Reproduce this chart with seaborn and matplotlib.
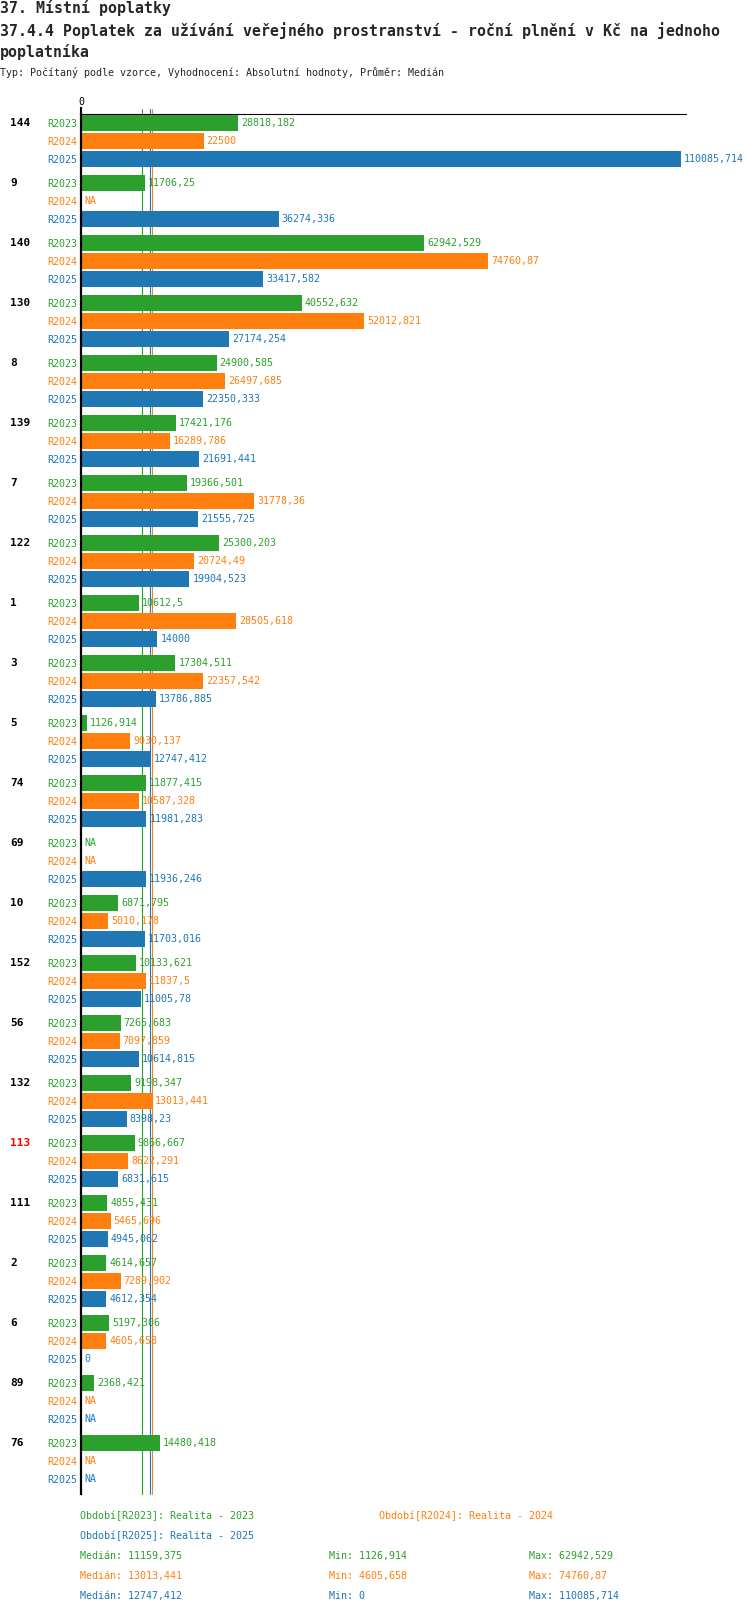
import numpy as np
import pandas as pd
import matplotlib
matplotlib.use("Agg")
import matplotlib.pyplot as plt
import matplotlib.transforms as mtransforms
import seaborn as sns

# ---------------- data ----------------
groups = ["144", "9", "140", "130", "8", "139", "7", "122", "1", "3", "5", "74",
          "69", "10", "152", "56", "132", "113", "111", "2", "6", "89", "76"]
periods = ["R2023", "R2024", "R2025"]
NA = np.nan
r2023 = [28818.182, 11706.25, 62942.529, 40552.632, 24900.585, 17421.176, 19366.501,
         25300.203, 10612.5, 17304.511, 1126.914, 11877.415, NA, 6871.795, 10133.621,
         7265.683, 9198.347, 9866.667, 4855.431, 4614.657, 5197.306, 2368.421, 14480.418]
r2024 = [22500, NA, 74760.87, 52012.821, 26497.685, 16289.786, 31778.36,
         20724.49, 28505.618, 22357.542, 9030.137, 10587.328, NA, 5010.178, 11837.5,
         7097.859, 13013.441, 8622.291, 5465.696, 7289.902, 4605.658, NA, NA]
r2025 = [110085.714, 36274.336, 33417.582, 27174.254, 22350.333, 21691.441, 21555.725,
         19904.523, 14000, 13786.885, 12747.412, 11981.283, 11936.246, 11703.016, 11005.78,
         10614.815, 8398.23, 6831.615, 4945.062, 4612.354, 0, NA, NA]
legend_names = ["Období[R2023]: Realita - 2023",
                "Období[R2024]: Realita - 2024",
                "Období[R2025]: Realita - 2025"]
highlight_group = "113"

title1 = "37. Místní poplatky"
title2 = "37.4.4 Poplatek za užívání veřejného prostranství - roční plnění v Kč na jednoho"
title3 = "poplatníka"
subtitle = "Typ: Počítaný podle vzorce, Vyhodnocení: Absolutní hodnoty, Průměr: Medián"

colors = {"R2023": "#2ca02c", "R2024": "#ff7f0e", "R2025": "#1f77b4"}

# ---------------- layout constants (pixel units) ----------------
W, H, DPI = 750, 1614, 100
ROW = 18          # row pitch
GROUP = 60        # group pitch
BAR_H = 16
AX_LEFT, AX_RIGHT, AX_TOP = 81, 686, 114.3
n = len(groups)
AX_BOTTOM = AX_TOP + GROUP * n

rows = []
series = {"R2023": r2023, "R2024": r2024, "R2025": r2025}
for i, g in enumerate(groups):
    for j, p in enumerate(periods):
        rows.append({"group": g, "period": p, "value": series[p][i],
                     "pos": GROUP * i + ROW * j + ROW / 2})
df = pd.DataFrame(rows)


def fmt(v):
    s = f"{v:.3f}".rstrip("0").rstrip(".")
    return s.replace(".", ",")


sns.set_style("white")
plt.rcParams["font.family"] = ["DejaVu Sans Mono", "DejaVu Sans"]

fig = plt.figure(figsize=(W / DPI, H / DPI), dpi=DPI)
ax = fig.add_axes([AX_LEFT / W, 1 - AX_BOTTOM / H,
                   (AX_RIGHT - AX_LEFT) / W, (AX_BOTTOM - AX_TOP) / H])

# median lines behind the bars (slightly protruding above the top line)
for p in periods:
    med = np.nanmedian(series[p])
    ax.plot([med, med], [-5, GROUP * n], color=colors[p], lw=0.8, zorder=0,
            clip_on=False)

sns.barplot(data=df.dropna(subset=["value"]), x="value", y="pos", hue="period",
            hue_order=periods, palette=colors, orient="h", native_scale=True,
            dodge=False, width=BAR_H / ROW, errorbar=None, legend=False,
            saturation=1, linewidth=0, edgecolor="none", ax=ax, zorder=2)

xmax = 111000
ax.set_xlim(0, xmax)
ax.set_ylim(GROUP * n, 0)

# spines
for s in ["right", "bottom"]:
    ax.spines[s].set_visible(False)
ax.spines["top"].set_linewidth(0.8)
ax.spines["top"].set_color("black")
ax.spines["top"].set_zorder(1)
ax.spines["left"].set_linewidth(1.6)
ax.spines["left"].set_color("black")
ax.grid(False)

# x tick "0" on top
ax.xaxis.tick_top()
ax.set_xticks([0])
ax.set_xticklabels(["0"])
ax.tick_params(axis="x", length=5, width=1.5, pad=0.5, labelsize=7.2, colors="black")
ax.set_xlabel("")
ax.set_ylabel("")

# y tick labels: period names
ax.set_yticks(df["pos"].tolist())
ax.set_yticklabels(df["period"].tolist())
ax.tick_params(axis="y", length=0, pad=3, labelsize=7.2)
for lab, p in zip(ax.get_yticklabels(), df["period"]):
    lab.set_color(colors[p])

# value labels
for _, r in df.iterrows():
    v = r["value"]
    txt = "NA" if pd.isna(v) else fmt(v)
    xv = 0 if pd.isna(v) else v
    ax.annotate(txt, xy=(xv, r["pos"]), xytext=(3, 0), textcoords="offset pixels",
                ha="left", va="center", fontsize=7.2, color=colors[r["period"]],
                annotation_clip=False, zorder=3)

# group labels
trans = mtransforms.blended_transform_factory(fig.transFigure, ax.transData)
for i, g in enumerate(groups):
    ax.text(10 / W, GROUP * i + ROW / 2, g, transform=trans, ha="left", va="center",
            fontsize=8, fontweight="bold",
            color="red" if g == highlight_group else "black")

# titles
def fy(px):
    return 1 - px / H

fig.text(0, fy(8.3), title1, fontsize=10.7, fontweight="bold", va="center", ha="left")
fig.text(0, fy(30.7), title2, fontsize=10.7, fontweight="bold", va="center", ha="left")
fig.text(0, fy(52), title3, fontsize=10.7, fontweight="bold", va="center", ha="left")
fig.text(0, fy(72.7), subtitle, fontsize=7.2, va="center", ha="left")

# legend / stats
fig.text(80 / W, fy(1516), legend_names[0], fontsize=7.2, color=colors["R2023"], va="center")
fig.text(379 / W, fy(1516), legend_names[1], fontsize=7.2, color=colors["R2024"], va="center")
fig.text(80 / W, fy(1536), legend_names[2], fontsize=7.2, color=colors["R2025"], va="center")
for k, p in enumerate(periods):
    vals = np.array(series[p], dtype=float)
    y = fy(1556 + 20 * k)
    fig.text(80 / W, y, "Medián: " + fmt(np.nanmedian(vals)), fontsize=7.2,
             color=colors[p], va="center")
    fig.text(329 / W, y, "Min: " + fmt(np.nanmin(vals)), fontsize=7.2,
             color=colors[p], va="center")
    fig.text(529 / W, y, "Max: " + fmt(np.nanmax(vals)), fontsize=7.2,
             color=colors[p], va="center")

fig.savefig("out.png", dpi=DPI, facecolor="white")
